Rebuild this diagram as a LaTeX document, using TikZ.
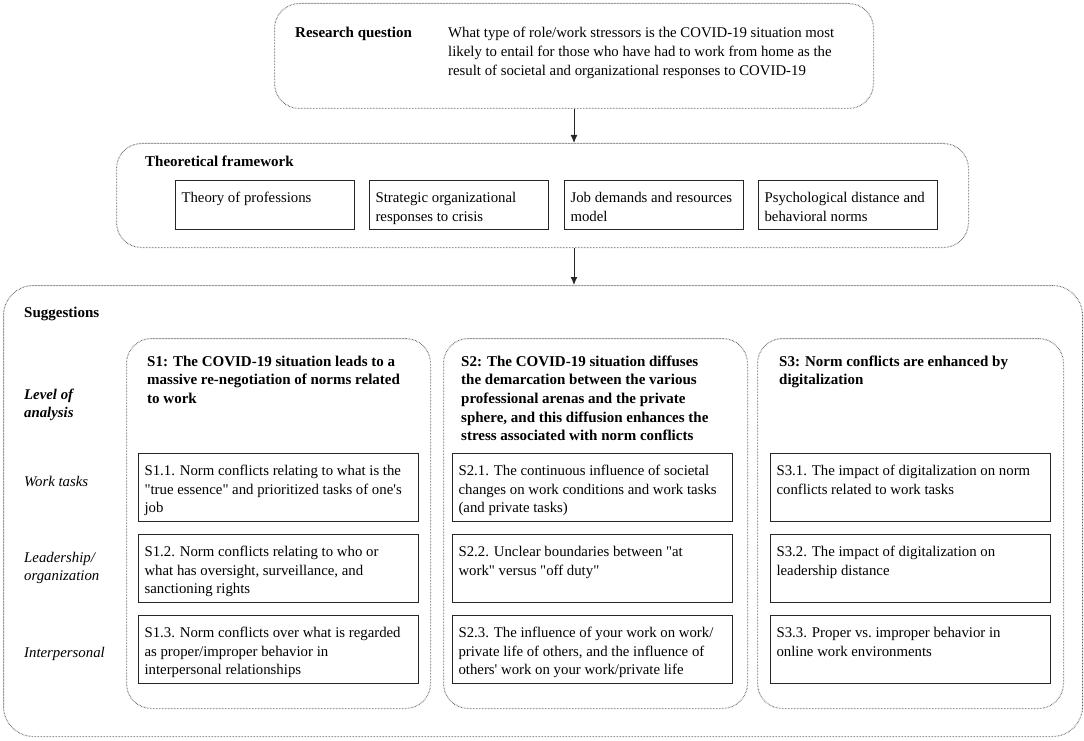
\documentclass[tikz,border=0pt]{standalone}
\usepackage{fontspec}
\setmainfont{Liberation Serif}[Ligatures=TeXOff]
\usetikzlibrary{arrows.meta}
\newcommand{\mylines}[2]{\makebox[#1][l]{\begin{tabular}[t]{@{}l@{}}#2\end{tabular}}}
\tikzset{
  basefont/.style={font=\fontsize{14.8}{18.7}\selectfont},
  dotbox/.style={draw=black!60, line width=1pt, dash pattern=on 0.6pt off 0.9pt,
    rounded corners=#1, anchor=north west, inner sep=0pt},
  inbox/.style={draw=black!85, line width=1.1pt, anchor=north west,
    inner xsep=6pt, inner ysep=0pt, basefont},
  txt/.style={anchor=base west, inner sep=0pt, basefont},
  btxt/.style={anchor=base west, inner sep=0pt, font=\fontsize{15}{18.7}\selectfont\bfseries},
  itxt/.style={anchor=base west, inner sep=0pt, font=\fontsize{14.8}{18.7}\selectfont\itshape},
  arr/.style={draw=black!85, line width=1pt, -{Latex[length=8pt,width=7pt]}},
}
\begin{document}
\begin{tikzpicture}[x=1pt,y=-1pt]
\useasboundingbox (0,0) rectangle (1084,741);

% Research question
\node[dotbox=25pt, minimum width=599pt, minimum height=105pt] (rq) at (274,3) {};
\node[btxt] (rqt) at (295,38) {Research question};
\node[txt] (rqq) at (448,38) {\mylines{420pt}{What type of role/work stressors is the COVID-19 situation most\\likely to entail for those who have had to work from home as the\\result of societal and organizational responses to COVID-19}};

% Theoretical framework
\node[dotbox=25pt, minimum width=852pt, minimum height=104pt] (tf) at (116,143) {};
\node[btxt] (tft) at (145,166) {Theoretical framework};
\node[inbox, text height=22pt, text depth=27pt] (tf1) at (175,180) {\mylines{167pt}{Theory of professions}};
\node[inbox, text height=22pt, text depth=27pt] (tf2) at (369,180) {\mylines{167pt}{Strategic organizational\\responses to crisis}};
\node[inbox, text height=22pt, text depth=27pt] (tf3) at (564,180) {\mylines{167pt}{Job demands and resources\\model}};
\node[inbox, text height=22pt, text depth=27pt] (tf4) at (758,180) {\mylines{167pt}{Psychological distance and\\behavioral norms}};

% Suggestions
\node[dotbox=30pt, minimum width=1079pt, minimum height=451pt] (sug) at (3,285) {};
\node[btxt] (sugt) at (24,317) {Suggestions};

\node[itxt, font=\fontsize{14.8}{18.7}\selectfont\bfseries\itshape] (lvl) at (24,399) {\begin{tabular}[t]{@{}l@{}}Level of\\analysis\end{tabular}};
\node[itxt] (lwt) at (24,486) {Work tasks};
\node[itxt] (llo) at (24,562) {\begin{tabular}[t]{@{}l@{}}Leadership/\\organization\end{tabular}};
\node[itxt] (lip) at (24,657) {Interpersonal};

\node[dotbox=25pt, minimum width=304pt, minimum height=370pt] (s1) at (126,338) {};
\node[dotbox=25pt, minimum width=304pt, minimum height=370pt] (s2) at (443,338) {};
\node[dotbox=25pt, minimum width=306pt, minimum height=370pt] (s3) at (757,338) {};

\node[btxt] (s1h) at (147,366) {\begin{tabular}[t]{@{}l@{}}S1: The COVID-19 situation leads to a\\massive re-negotiation of norms related\\to work\end{tabular}};
\node[btxt] (s2h) at (461,366) {\begin{tabular}[t]{@{}l@{}}S2: The COVID-19 situation diffuses\\the demarcation between the various\\professional arenas and the private\\sphere, and this diffusion enhances the\\stress associated with norm conflicts\end{tabular}};
\node[btxt] (s3h) at (779,366) {\begin{tabular}[t]{@{}l@{}}S3: Norm conflicts are enhanced by\\digitalization\end{tabular}};

% Row boxes
\node[inbox, text height=22pt, text depth=46pt] (s11) at (138,453) {\mylines{268pt}{S1.1. Norm conflicts relating to what is the\\"true essence" and prioritized tasks of one's\\job}};
\node[inbox, text height=22pt, text depth=46pt] (s12) at (138,534) {\mylines{268pt}{S1.2. Norm conflicts relating to who or\\what has oversight, surveillance, and\\sanctioning rights}};
\node[inbox, text height=22pt, text depth=46pt] (s13) at (138,615) {\mylines{268pt}{S1.3. Norm conflicts over what is regarded\\as proper/improper behavior in\\interpersonal relationships}};

\node[inbox, text height=22pt, text depth=46pt] (s21) at (452,453) {\mylines{268pt}{S2.1. The continuous influence of societal\\changes on work conditions and work tasks\\(and private tasks)}};
\node[inbox, text height=22pt, text depth=46pt] (s22) at (452,534) {\mylines{268pt}{S2.2. Unclear boundaries between "at\\work" versus "off duty"}};
\node[inbox, text height=22pt, text depth=46pt] (s23) at (452,615) {\mylines{268pt}{S2.3. The influence of your work on work/\\private life of others, and the influence of\\others' work on your work/private life}};

\node[inbox, text height=22pt, text depth=46pt] (s31) at (770,453) {\mylines{268pt}{S3.1. The impact of digitalization on norm\\conflicts related to work tasks}};
\node[inbox, text height=22pt, text depth=46pt] (s32) at (770,534) {\mylines{268pt}{S3.2. The impact of digitalization on\\leadership distance}};
\node[inbox, text height=22pt, text depth=46pt] (s33) at (770,615) {\mylines{268pt}{S3.3. Proper vs.\ improper behavior in\\online work environments}};

% Arrows
\draw[arr] (rq.south) -- (rq.south |- tf.north);
\draw[arr] (rq.south |- tf.south) -- (rq.south |- sug.north);
\end{tikzpicture}
\end{document}
